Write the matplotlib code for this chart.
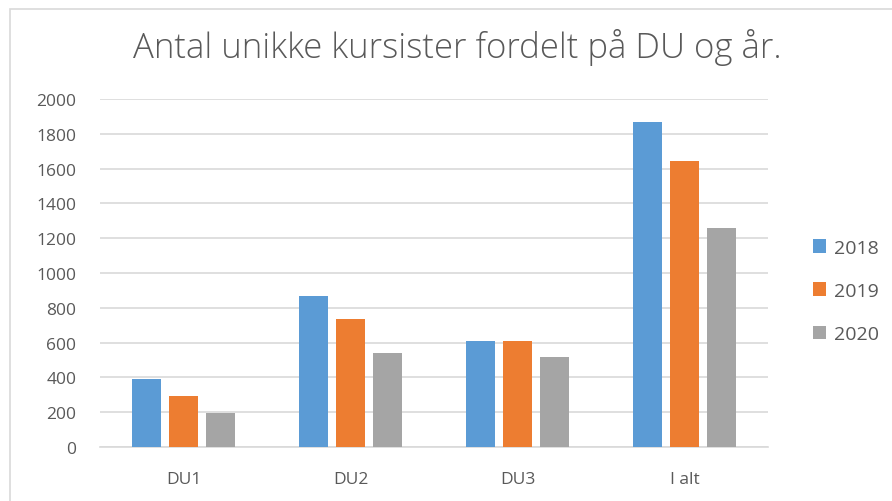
import matplotlib
matplotlib.use("Agg")
import matplotlib.pyplot as plt
import numpy as np
from matplotlib.patches import Rectangle

categories = ["DU1", "DU2", "DU3", "I alt"]
years = ["2018", "2019", "2020"]
v2018 = [389, 868, 607, 1868]
v2019 = [293, 736, 611, 1644]
v2020 = [194, 540, 517, 1259]
yticks = [0, 200, 400, 600, 800, 1000, 1200, 1400, 1600, 1800, 2000]

colors = ["#5B9BD5", "#ED7D31", "#A5A5A5"]
txt = "#595959"
plt.rcParams['font.family'] = ['Open Sans', 'DejaVu Sans']

fig = plt.figure(figsize=(8.92, 5.02), dpi=100)
ax = fig.add_axes([100/892, 1-448/502, 668/892, 348/502])

x = np.arange(len(categories))
w = 0.174
step = 0.22
for i, (vals, c, lab) in enumerate(zip([v2018, v2019, v2020], colors, years)):
    ax.bar(x + (i-1)*step, vals, width=w, color=c, label=lab, zorder=3)

ax.set_xlim(-0.5, len(categories)-0.5)
ax.set_ylim(0, 2000)
ax.set_yticks(yticks)
ax.set_yticklabels([str(t) for t in yticks])
ax.set_xticks(x)
ax.set_xticklabels(categories)
ax.grid(axis='y', color='#D9D9D9', linewidth=1.2, zorder=0)
for s in ['top', 'right', 'left']:
    ax.spines[s].set_visible(False)
ax.spines['bottom'].set_color('#D9D9D9')
ax.spines['bottom'].set_linewidth(1.2)
ax.tick_params(axis='both', length=0, labelsize=12.5, colors=txt)
ax.tick_params(axis='y', pad=17)
ax.tick_params(axis='x', pad=17)

fig.text(457/892, 1-48/502, "Antal unikke kursister fordelt på DU og år.",
         ha='center', va='center', fontsize=25, color=txt, fontweight='light')

leg = ax.legend(loc='center left', bbox_to_anchor=(795/892, 1-292/502),
                bbox_transform=fig.transFigure, frameon=False,
                fontsize=14, labelcolor=txt, handlelength=0.7, handleheight=0.7,
                labelspacing=1.3, handletextpad=0.4)

fig.patches.append(Rectangle((10/892, -20/502), 900/892, 512/502, transform=fig.transFigure,
                             fill=False, edgecolor='#D9D9D9', linewidth=1.2))
fig.savefig("out.png", dpi=100)
